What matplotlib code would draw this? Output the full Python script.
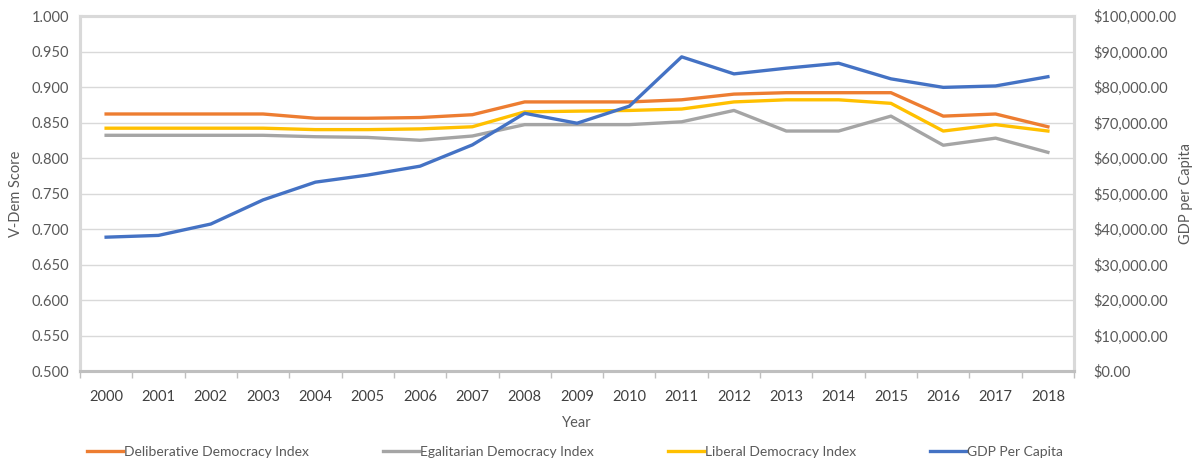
import matplotlib
matplotlib.use("Agg")
import matplotlib.pyplot as plt
from matplotlib.ticker import FuncFormatter, MultipleLocator, FixedLocator

years = [str(y) for y in range(2000, 2019)]
deliberative = [0.862, 0.862, 0.862, 0.862, 0.856, 0.856, 0.857, 0.861, 0.879, 0.879,
                0.879, 0.882, 0.890, 0.892, 0.892, 0.892, 0.859, 0.862, 0.844]
egalitarian = [0.832, 0.832, 0.832, 0.832, 0.830, 0.829, 0.825, 0.831, 0.847, 0.847,
               0.847, 0.851, 0.867, 0.838, 0.838, 0.859, 0.818, 0.828, 0.808]
liberal = [0.842, 0.842, 0.842, 0.842, 0.840, 0.840, 0.841, 0.844, 0.865, 0.866,
           0.867, 0.869, 0.879, 0.882, 0.882, 0.877, 0.838, 0.847, 0.838]
gdp = [37700, 38200, 41400, 48200, 53200, 55200, 57700, 63700, 72600, 69800,
       74600, 88500, 83700, 85300, 86700, 82300, 79900, 80300, 82900]

TXT = "#595959"
GRID = "#D9D9D9"
plt.rcParams['font.family'] = ['Lato', 'DejaVu Sans']

fig = plt.figure(figsize=(11.97, 4.63), dpi=100)
ax = fig.add_axes([0.0668, 0.1987, 0.8305, 0.7667])
ax2 = ax.twinx()

x = list(range(len(years)))
lw = 2.4
l1, = ax.plot(x, deliberative, color="#ED7D31", lw=lw, label="Deliberative Democracy Index", zorder=3)
l2, = ax.plot(x, egalitarian, color="#A5A5A5", lw=lw, label="Egalitarian Democracy Index", zorder=3)
l3, = ax.plot(x, liberal, color="#FFC000", lw=lw, label="Liberal Democracy Index", zorder=3)
l4, = ax2.plot(x, gdp, color="#4472C4", lw=lw, label="GDP Per Capita", zorder=3)

ax.set_xlim(-0.5, len(years) - 0.5)
ax.set_ylim(0.5, 1.0)
ax2.set_ylim(0, 100000)
ax.yaxis.set_major_locator(MultipleLocator(0.05))
ax2.yaxis.set_major_locator(MultipleLocator(10000))
ax.yaxis.set_major_formatter(FuncFormatter(lambda v, p: f"{v:.3f}"))
ax2.yaxis.set_major_formatter(FuncFormatter(lambda v, p: f"${v:,.2f}"))

ax.set_xticks(x)
ax.set_xticklabels(years)
ax.xaxis.set_minor_locator(FixedLocator([i - 0.5 for i in range(len(years) + 1)]))
ax.tick_params(axis='x', which='major', length=0, pad=14, labelsize=10.5, labelcolor="#404040")
ax.tick_params(axis='x', which='minor', length=5, width=1, color="#BFBFBF")
ax.tick_params(axis='y', length=0, pad=8, labelsize=10.5, labelcolor=TXT)
ax2.tick_params(axis='y', length=0, pad=14, labelsize=10.5, labelcolor=TXT)

ax.grid(axis='y', color=GRID, lw=1)
ax.set_axisbelow(True)
for a in (ax, ax2):
    for s in a.spines.values():
        s.set_color(GRID)
        s.set_linewidth(2.2)
ax2.spines['bottom'].set_color("#BFBFBF")
ax.spines['bottom'].set_color("#BFBFBF")

ax.set_ylabel("V-Dem Score", color=TXT, fontsize=10.5, labelpad=6)
ax2.set_ylabel("GDP per Capita", color=TXT, fontsize=10.5, labelpad=2)
ax.set_xlabel("Year", color=TXT, fontsize=10.5, labelpad=8)

fig.legend(handles=[l1, l2, l3, l4], loc='lower left', bbox_to_anchor=(0.062, -0.016),
           ncol=4, frameon=False, fontsize=10, labelcolor=TXT,
           handlelength=2.6, handletextpad=0.1, columnspacing=5.3)

fig.savefig("out.png", dpi=100)
